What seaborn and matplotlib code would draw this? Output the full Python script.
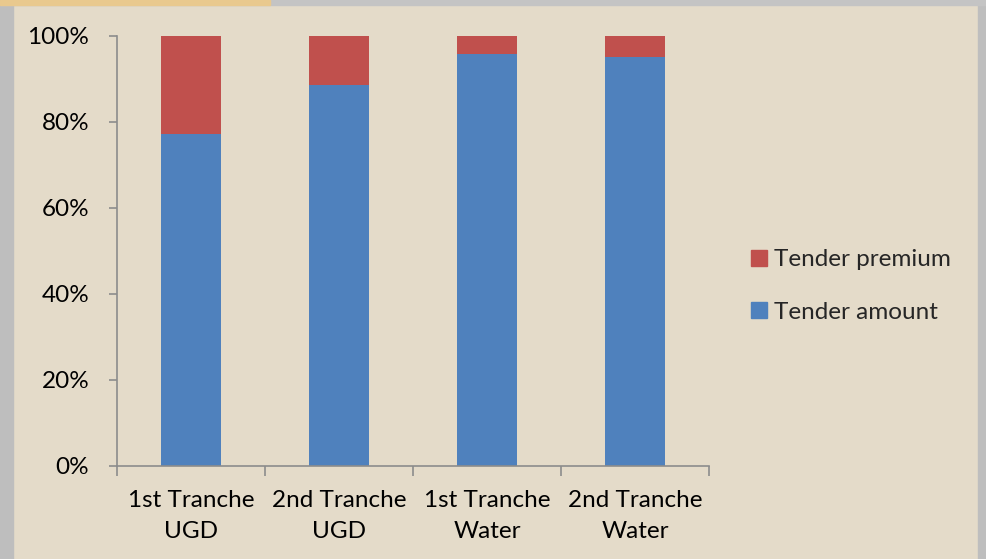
import matplotlib
matplotlib.use("Agg")
import matplotlib.pyplot as plt
import matplotlib.patches as mpatches
from matplotlib.ticker import PercentFormatter, FixedLocator
import seaborn as sns
import pandas as pd

categories = ["1st Tranche\nUGD", "2nd Tranche\nUGD", "1st Tranche\nWater", "2nd Tranche\nWater"]
tender_amount = [77.1, 88.5, 95.7, 95.2]
tender_premium = [22.9, 11.5, 4.3, 4.8]
y_ticks = [0, 20, 40, 60, 80, 100]

blue = "#4F81BD"
red = "#C0504D"
bg = "#E4DBC9"
axis_grey = "#8C8C8C"

sns.set_theme(style="white")
plt.rcParams["font.family"] = ["Lato", "DejaVu Sans"]

df = pd.DataFrame({
    "category": categories,
    "amount": tender_amount,
    "premium": tender_premium,
})
df["total"] = df["amount"] + df["premium"]

fig = plt.figure(figsize=(9.86, 5.59), dpi=100, facecolor=bg)
# border strips
fig.patches.append(mpatches.Rectangle((0, 0), 13/986, 1, transform=fig.transFigure,
                                      color="#BEBEBE", zorder=0))
fig.patches.append(mpatches.Rectangle((978/986, 0), 8/986, 1, transform=fig.transFigure,
                                      color="#BEBEBE", zorder=0))
fig.patches.append(mpatches.Rectangle((0, 1-5/559), 1, 5/559, transform=fig.transFigure,
                                      color="#C4C4C4", zorder=0))
fig.patches.append(mpatches.Rectangle((0, 1-5/559), 270/986, 5/559, transform=fig.transFigure,
                                      color="#E9C98E", zorder=0))

ax = fig.add_axes([117/986, 1-466/559, 592/986, 430/559])
ax.set_facecolor("none")

sns.barplot(data=df, x="category", y="total", color=red, width=0.4,
            saturation=1, ax=ax, linewidth=0, edgecolor="none")
sns.barplot(data=df, x="category", y="amount", color=blue, width=0.4,
            saturation=1, ax=ax, linewidth=0, edgecolor="none")

ax.set_xlim(-0.5, 3.5)
ax.set_ylim(0, 100)
ax.set_xlabel("")
ax.set_ylabel("")
ax.yaxis.set_major_locator(FixedLocator(y_ticks))
ax.yaxis.set_major_formatter(PercentFormatter(decimals=0))

for s in ["top", "right"]:
    ax.spines[s].set_visible(False)
for s in ["left", "bottom"]:
    ax.spines[s].set_visible(True)
    ax.spines[s].set_color(axis_grey)
    ax.spines[s].set_linewidth(1.2)

fs = 17.5
ax.tick_params(axis="y", which="major", direction="out", length=6, width=1.2,
               color=axis_grey, left=True, labelsize=fs, pad=14, labelcolor="black")
ax.set_xticks(range(len(categories)))
ax.set_xticklabels(categories, linespacing=1.6)
ax.tick_params(axis="x", which="major", length=0, labelsize=fs, pad=17, labelcolor="black")
ax.set_xticks([-0.5, 0.5, 1.5, 2.5, 3.5], minor=True)
ax.tick_params(axis="x", which="minor", direction="out", length=7, width=1.2,
               color=axis_grey, bottom=True)

handles = [mpatches.Patch(color=red, label="Tender premium"),
           mpatches.Patch(color=blue, label="Tender amount")]
ax.legend(handles=handles, loc="center left", bbox_to_anchor=(741/986, 1-286/559),
          bbox_transform=fig.transFigure, frameon=False, fontsize=fs,
          handlelength=0.65, handleheight=0.65, handletextpad=0.3,
          labelspacing=1.3, borderaxespad=0)

fig.savefig("out.png", dpi=100, facecolor=bg)
